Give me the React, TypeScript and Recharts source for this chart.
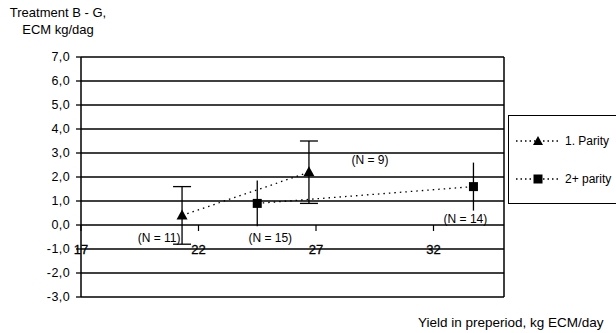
import React from "react";
import {
  ScatterChart,
  Scatter,
  XAxis,
  YAxis,
  CartesianGrid,
  ErrorBar,
  ReferenceLine,
  ReferenceDot,
} from "recharts";

// values
const seriesNames = ["1. Parity", "2+ parity"];
const parity1X = [21.3, 26.7];
const parity1Y = [0.4, 2.2];
const parity1Err = [1.2, 1.3];
const parity1N = ["(N = 11)", "(N = 9)"];
const parity2X = [24.5, 33.7];
const parity2Y = [0.9, 1.6];
const parity2Err = [0.95, 1.0];
const parity2N = ["(N = 15)", "(N = 14)"];
const yTicks = [-3, -2, -1, 0, 1, 2, 3, 4, 5, 6, 7];
const xTicks = [17, 22, 27, 32];

// label placement (pixels from the marker)
const parity1LabelPos = [
  [-23, 27],
  [61, -8],
];
const parity2LabelPos = [
  [13, 39],
  [-8, 36],
];

const FONT = "'Liberation Sans', Arial, sans-serif";

const build = (xs: number[], ys: number[], errs: number[], ns: string[]) =>
  xs.map((x, i) => ({ x, y: ys[i], err: errs[i], n: ns[i], idx: i }));

const parity1 = build(parity1X, parity1Y, parity1Err, parity1N);
const parity2 = build(parity2X, parity2Y, parity2Err, parity2N);

const fmt = (v: number) => v.toFixed(1).replace(".", ",");

const Triangle = (props: any) => {
  const { cx, cy, payload } = props;
  const [dx, dy] = parity1LabelPos[payload.idx];
  return (
    <g>
      <polygon
        points={`${cx},${cy - 6} ${cx - 5.5},${cy + 4} ${cx + 5.5},${cy + 4}`}
        fill="#000"
      />
      <text x={cx + dx} y={cy + dy} textAnchor="middle" fontSize={12} fontFamily={FONT} fill="#000">
        {payload.n}
      </text>
    </g>
  );
};

const Square = (props: any) => {
  const { cx, cy, payload } = props;
  const [dx, dy] = parity2LabelPos[payload.idx];
  return (
    <g>
      <rect x={cx - 4.5} y={cy - 4.5} width={9} height={9} fill="#000" />
      <text x={cx + dx} y={cy + dy} textAnchor="middle" fontSize={12} fontFamily={FONT} fill="#000">
        {payload.n}
      </text>
    </g>
  );
};

const XTick = (value: number) => (props: any) => {
  const { cx, cy } = props;
  return (
    <g>
      <line x1={cx} y1={cy} x2={cx} y2={cy + 6} stroke="#000" strokeWidth={1.2} />
      <text
        x={cx}
        y={cy + 29}
        textAnchor="middle"
        fontSize={13}
        fontFamily={FONT}
        fill="#000"
        stroke="#000"
        strokeWidth={0.3}
      >
        {value}
      </text>
    </g>
  );
};

const LegendBox = () => (
  <div
    style={{
      position: "absolute",
      left: 508,
      top: 115,
      width: 112,
      height: 89,
      border: "1px solid #000",
      background: "#fff",
      fontFamily: FONT,
      fontSize: 12,
      boxSizing: "border-box",
    }}
  >
    {seriesNames.map((name, i) => (
      <div
        key={name}
        style={{ position: "absolute", left: 6, top: 18 + i * 38, display: "flex", alignItems: "center" }}
      >
        <svg width={44} height={12}>
          <line x1={1} y1={6} x2={43} y2={6} stroke="#000" strokeWidth={1.3} strokeDasharray="1.5 3" />
          {i === 0 ? (
            <polygon points="23,1 18,10 28,10" fill="#000" />
          ) : (
            <rect x={18.5} y={1.5} width={9} height={9} fill="#000" />
          )}
        </svg>
        <span style={{ marginLeft: 6 }}>{name}</span>
      </div>
    ))}
  </div>
);

export default function App() {
  return (
    <div style={{ position: "absolute", left: 0, top: 0, width: 616, height: 333, background: "#fff" }}>
      <div
        style={{
          position: "absolute",
          left: 0,
          top: 4,
          width: 116,
          textAlign: "center",
          fontFamily: FONT,
          fontSize: 13,
          lineHeight: "17px",
          color: "#000",
        }}
      >
        Treatment B - G,
        <br />
        ECM kg/dag
      </div>
      <div
        style={{
          position: "absolute",
          left: 418,
          top: 315,
          fontFamily: FONT,
          fontSize: 13.5,
          lineHeight: "16px",
          color: "#000",
          whiteSpace: "nowrap",
        }}
      >
        Yield in preperiod, kg ECM/day
      </div>
      <ScatterChart width={616} height={333} margin={{ top: 57, right: 112, bottom: 36, left: 21 }}>
        <CartesianGrid horizontal vertical={false} stroke="#000" strokeWidth={1.3} />
        <XAxis type="number" dataKey="x" domain={[17, 35]} ticks={xTicks} hide />
        <YAxis
          type="number"
          dataKey="y"
          domain={[-3, 7]}
          ticks={yTicks}
          interval={0}
          width={60}
          tickFormatter={fmt}
          tickSize={5}
          tickMargin={6}
          axisLine={{ stroke: "#000", strokeWidth: 1.5 }}
          tickLine={{ stroke: "#000", strokeWidth: 1.3 }}
          tick={{ fill: "#000", fontSize: 12.5, fontFamily: FONT, letterSpacing: 0.4 }}
        />
        <ReferenceLine x={35} stroke="#000" strokeWidth={1.5} />
        {xTicks.map((v) => (
          <ReferenceDot key={v} x={v} y={0} r={0} shape={XTick(v)} />
        ))}
        <Scatter
          name={seriesNames[0]}
          data={parity1}
          isAnimationActive={false}
          line={{ stroke: "#000", strokeWidth: 1.3, strokeDasharray: "1.5 4" }}
          lineType="joint"
          shape={Triangle}
        >
          <ErrorBar dataKey="err" direction="y" width={9} stroke="#000" strokeWidth={1.3} />
        </Scatter>
        <Scatter
          name={seriesNames[1]}
          data={parity2}
          isAnimationActive={false}
          line={{ stroke: "#000", strokeWidth: 1.3, strokeDasharray: "1.5 4" }}
          lineType="joint"
          shape={Square}
        >
          <ErrorBar dataKey="err" direction="y" width={0} stroke="#000" strokeWidth={1.3} />
        </Scatter>
      </ScatterChart>
      <LegendBox />
    </div>
  );
}
